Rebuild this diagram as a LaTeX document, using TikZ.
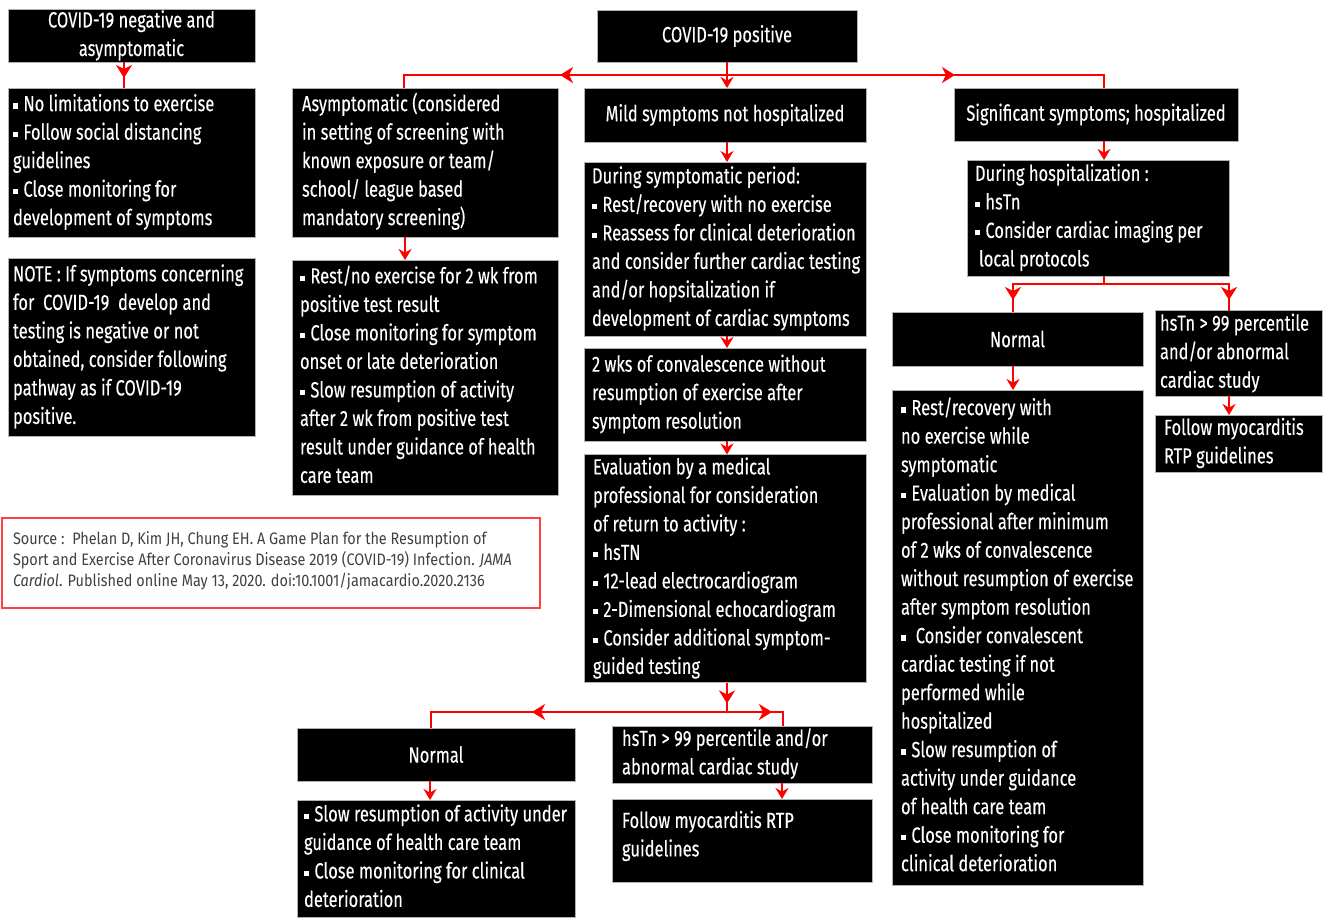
\documentclass[tikz,border=0pt]{standalone}
\usepackage{fontspec}
\setmainfont{Fira Sans}[FakeStretch=0.75,FakeBold=0.2]
\newfontfamily\srcfont{Fira Sans}[FakeStretch=0.87]
\usetikzlibrary{arrows.meta,decorations.markings}
\newcommand\bl{\raisebox{1.3pt}{\rule{2.6pt}{2.6pt}}\hspace{2.6pt}}
\newcommand\tl[1]{\spaceskip=0pt\xspaceskip=0pt\begin{tabular}{@{}l@{}}#1\end{tabular}}
\begin{document}
\begin{tikzpicture}[x=0.5pt,y=-0.5pt,
  bx/.style={fill=black, draw=gray!60, line width=0.4pt, text=white, inner sep=0pt, outer sep=0pt,
    font=\fontsize{11}{14.25}\selectfont},
  lft/.style={align=left},
  ctr/.style={align=center},
  ln/.style={red, line width=1pt},
  arr/.style={ln, -{Stealth[length=5.5pt,width=6.5pt,inset=1.8pt]}},
  arrat/.style={ln, postaction={decorate}, decoration={markings,
    mark=at position #1 with {\arrow{Stealth[length=6.5pt,width=8pt,inset=2pt]}}}}
]
\useasboundingbox (0,0) rectangle (1323,917);

% left column
\node[bx,ctr,minimum width=123.5pt,minimum height=26.5pt] (neg) at (131.5,35.5)
  {COVID-19 negative and\\asymptomatic};
\node[bx,lft,minimum width=123.5pt,minimum height=74.5pt,text width=118.5pt] (negd) at (131.5,162.5)
  {\tl{\bl No limitations to exercise\\\bl Follow social distancing\\guidelines\\\bl Close monitoring for\\development of symptoms}};
\node[bx,lft,minimum width=123.5pt,minimum height=89pt,text width=118.5pt] (note) at (131.5,347)
  {\tl{NOTE : If symptoms concerning\\for\ \ COVID-19\ \ develop and\\testing is negative or not\\obtained, consider following\\pathway as if COVID-19\\positive.}};

% source
\node[fill=white, draw=red!75, line width=0.6pt, inner sep=0pt, outer sep=0pt,
  minimum width=269pt, minimum height=45pt, text width=258pt, align=left,
  text=black!75, font=\srcfont\fontsize{8.3}{10.5}\selectfont] (src) at (271,563)
  {\tl{Source :\ \ Phelan D, Kim JH, Chung EH. A Game Plan for the Resumption of\\Sport and Exercise After Coronavirus Disease 2019 (COVID-19) Infection. \textit{JAMA}\\\textit{Cardiol}. Published online May 13, 2020. doi:10.1001/jamacardio.2020.2136\\[2pt]}};

% top
\node[bx,ctr,minimum width=130pt,minimum height=26pt] (pos) at (727,36) {COVID-19 positive};
\node[bx,lft,minimum width=133pt,minimum height=74.5pt,text width=123pt] (asym) at (425,162.5)
  {\tl{Asymptomatic (considered\\in setting of screening with\\known exposure or team/\\school/ league based\\mandatory screening)}};
\node[bx,ctr,minimum width=141pt,minimum height=27pt] (mild) at (725,115) {Mild symptoms not hospitalized};
\node[bx,ctr,minimum width=142pt,minimum height=26.5pt] (sig) at (1096,114.5) {Significant symptoms; hospitalized};

% asymptomatic column
\node[bx,lft,minimum width=133pt,minimum height=117.5pt,text width=125pt] (asymd) at (425,377.5)
  {\tl{\bl Rest/no exercise for 2 wk from\\positive test result\\\bl Close monitoring for symptom\\onset or late deterioration\\\bl Slow resumption of activity\\after 2 wk from positive test\\result under guidance of health\\care team}};

% mild column
\node[bx,lft,minimum width=141pt,minimum height=87pt,text width=133pt] (symp) at (725,249)
  {\tl{During symptomatic period:\\\bl Rest/recovery with no exercise\\\bl Reassess for clinical deterioration\\and consider further cardiac testing\\and/or hopsitalization if\\development of cardiac symptoms}};
\node[bx,lft,minimum width=141pt,minimum height=46.5pt,text width=133pt] (conv) at (725,394.5)
  {\tl{2 wks of convalescence without\\resumption of exercise after\\symptom resolution}};
\node[bx,lft,minimum width=141pt,minimum height=113.5pt,text width=132pt] (eval) at (725,568.5)
  {\tl{Evaluation by a medical\\professional for consideration\\of return to activity :\\\bl hsTN\\\bl 12-lead electrocardiogram\\\bl 2-Dimensional echocardiogram\\\bl Consider additional symptom-\\guided testing}};
\node[bx,ctr,minimum width=139pt,minimum height=26.5pt] (normb) at (436,754.5) {Normal};
\node[bx,lft,minimum width=130pt,minimum height=26.5pt,text width=120pt] (hsb) at (742,754.5)
  {\tl{hsTn > 99 percentile and/or\\abnormal cardiac study}};
\node[bx,lft,minimum width=139pt,minimum height=58.5pt,text width=132pt] (slowb) at (436,858.5)
  {\tl{\bl Slow resumption of activity under\\guidance of health care team\\\bl Close monitoring for clinical\\deterioration}};
\node[bx,lft,minimum width=130pt,minimum height=41.5pt,text width=120pt] (follb) at (742,840.5)
  {\tl{Follow myocarditis RTP\\guidelines\\[4pt]}};

% hospitalized column
\node[bx,lft,minimum width=131pt,minimum height=58pt,text width=123pt] (hosp) at (1098,218)
  {\tl{During hospitalization :\\\bl hsTn\\\bl Consider cardiac imaging per\\\hspace*{2pt}local protocols}};
\node[bx,ctr,minimum width=125.5pt,minimum height=27pt] (normr) at (1017.5,339) {Normal};
\node[bx,lft,minimum width=83.5pt,minimum height=42.5pt,text width=78.5pt] (hsr) at (1238.5,353.5)
  {\tl{hsTn > 99 percentile\\and/or abnormal\\cardiac study}};
\node[bx,lft,minimum width=83.5pt,minimum height=28.5pt,text width=74.5pt] (follr) at (1238.5,443.5)
  {\tl{Follow myocarditis\\RTP guidelines}};
\node[bx,lft,minimum width=125.5pt,minimum height=247.5pt,text width=116.5pt] (restr) at (1017.5,637.5)
  {\tl{\bl Rest/recovery with\\no exercise while\\symptomatic\\\bl Evaluation by medical\\professional after minimum\\of 2 wks of convalescence\\without resumption of exercise\\after symptom resolution\\\bl\ Consider convalescent\\cardiac testing if not\\performed while\\hospitalized\\\bl Slow resumption of\\activity under guidance\\of health care team\\\bl Close monitoring for\\clinical deterioration}};

% junction coordinates
\coordinate (tj) at (727,75);
\coordinate (bj) at (727,712);
\coordinate (hj) at (1104,284);

% connectors
\draw[arrat=8pt] ([xshift=-3.75pt]neg.south) -- ([xshift=-3.75pt]negd.north);
\draw[arr] (pos.south) -- (pos.south |- mild.north);
\draw[arrat=83.5pt] (tj) -| ([xshift=-10.5pt]asym.north);
\draw[arrat=114pt] (tj) -| ([xshift=4pt]sig.north);
\draw[arr] ([xshift=4pt]sig.south) -- ([xshift=3pt]hosp.north);
\draw[arr] ([xshift=-10pt]asym.south) -- ([xshift=-10pt]asymd.north);
\draw[arr] ([xshift=1pt]mild.south) -- ([xshift=1pt]symp.north);
\draw[arr] ([xshift=1pt]symp.south) -- ([xshift=1pt]conv.north);
\draw[arr] ([xshift=1pt]conv.south) -- ([xshift=1pt]eval.north);
\draw[arrat=10.5pt] (eval.south -| bj) -- (bj);
\draw[arrat=97.5pt] (bj) -| ([xshift=-2.5pt]normb.north);
\draw[arrat=22.5pt] (bj) -| ([xshift=20.5pt]hsb.north);
\draw[arr] ([xshift=-3pt]normb.south) -- ([xshift=-3pt]slowb.north);
\draw[arr] ([xshift=20pt]hsb.south) -- ([xshift=20pt]follb.north);
\draw[ln] ([xshift=3pt]hosp.south) -- (hj);
\draw[arrat=53.5pt] (hj) -| ([xshift=-2.25pt]normr.north);
\draw[arrat=70.5pt] (hj) -| ([xshift=-4.75pt]hsr.north);
\draw[arr] ([xshift=-2.25pt]normr.south) -- ([xshift=-2.25pt]restr.north);
\draw[arr] ([xshift=-4.75pt]hsr.south) -- ([xshift=-4.75pt]follr.north);
\end{tikzpicture}
\end{document}
